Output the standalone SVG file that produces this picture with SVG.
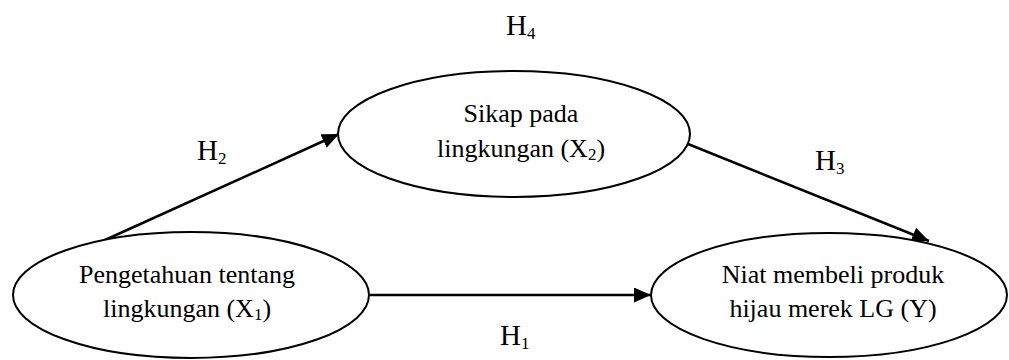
<svg xmlns="http://www.w3.org/2000/svg" width="1009" height="360" viewBox="0 0 1009 360">
<style>
.node{fill:#fff;stroke:#000;stroke-width:2}
.t{font-family:"Liberation Serif","Times New Roman",serif;font-size:26px;fill:#000;text-anchor:middle}
.h{font-family:"Liberation Serif","Times New Roman",serif;font-size:29px;fill:#000}
.sub{font-size:17px}
.edge{stroke:#000;stroke-width:2.5;fill:none;marker-end:url(#arr)}
</style>
<defs>
<marker id="arr" markerUnits="userSpaceOnUse" markerWidth="18" markerHeight="15" refX="17" refY="7.5" orient="auto">
<path d="M0,0 L17,7.5 L0,15 z" fill="#000"/>
</marker>
</defs>
<g id="connectors">
<line class="edge" x1="105" y1="240" x2="339" y2="134"/>
<line class="edge" x1="688" y1="144" x2="929" y2="241"/>
<line class="edge" x1="370" y1="295" x2="651" y2="295"/>
</g>
<g id="x1">
<ellipse class="node" cx="191" cy="295" rx="178" ry="63"/>
<text class="t" x="187" y="283">Pengetahuan tentang</text>
<text class="t" x="187" y="317">lingkungan (X<tspan class="sub" dy="3">1</tspan><tspan dy="-3">)</tspan></text>
</g>
<g id="x2">
<ellipse class="node" cx="514" cy="134" rx="176" ry="63"/>
<text class="t" x="521" y="122">Sikap pada</text>
<text class="t" x="521" y="157">lingkungan (X<tspan class="sub" dy="3">2</tspan><tspan dy="-3">)</tspan></text>
</g>
<g id="y">
<ellipse class="node" cx="829" cy="295" rx="178" ry="62"/>
<text class="t" x="833" y="283">Niat membeli produk</text>
<text class="t" x="833" y="317">hijau merek LG (Y)</text>
</g>
<g id="labels">
<text class="h" x="506" y="35">H<tspan class="sub" dy="4">4</tspan></text>
<text class="h" x="197" y="160">H<tspan class="sub" dy="4">2</tspan></text>
<text class="h" x="815" y="170">H<tspan class="sub" dy="4">3</tspan></text>
<text class="h" x="500" y="345">H<tspan class="sub" dy="4">1</tspan></text>
</g>
</svg>
